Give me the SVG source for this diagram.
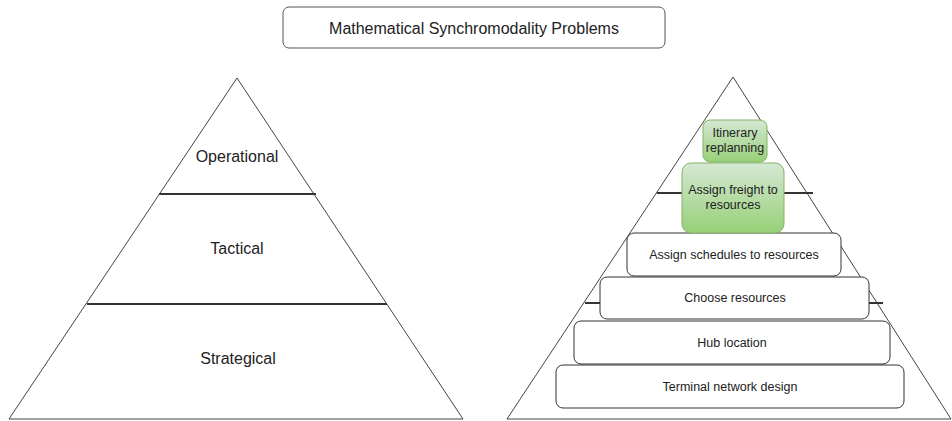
<svg xmlns="http://www.w3.org/2000/svg" width="952" height="421" viewBox="0 0 952 421">
<style>
text{font-family:"Liberation Sans",Arial,sans-serif;fill:#222;text-anchor:middle;dominant-baseline:central}
.tri{fill:#fff;stroke:#444;stroke-width:1}
.div{stroke:#333;stroke-width:2}
.box{fill:#fff;stroke:#333;stroke-width:1}
.green{fill:url(#g);stroke:#82b366;stroke-width:1}
</style>
<defs>
<linearGradient id="g" x1="0" y1="0" x2="0" y2="1">
<stop offset="0" stop-color="#d5e8d4"/>
<stop offset="1" stop-color="#97d077"/>
</linearGradient>
</defs>
<rect width="952" height="421" fill="#fff"/>
<g id="title">
<rect x="283" y="7" width="382" height="41" rx="6" fill="#fff" stroke="#555"/>
<text x="474" y="28" font-size="16">Mathematical Synchromodality Problems</text>
</g>
<g id="left-pyramid">
<polygon class="tri" points="237,78 9,419 463,419"/>
<line class="div" x1="159" y1="194" x2="316" y2="194"/>
<line class="div" x1="87" y1="304" x2="387" y2="304"/>
<text x="237" y="156" font-size="16">Operational</text>
<text x="237" y="248" font-size="16">Tactical</text>
<text x="238" y="358" font-size="16">Strategical</text>
</g>
<g id="right-pyramid">
<polygon class="tri" points="733,77 507,419 951,419"/>
<line class="div" x1="657" y1="193" x2="813" y2="193"/>
<line class="div" x1="585" y1="303" x2="883" y2="303"/>
</g>
<g id="terminal">
<rect class="box" x="556" y="365" width="348" height="43" rx="7"/>
<text x="730" y="387" font-size="12.5">Terminal network design</text>
</g>
<g id="hub">
<rect class="box" x="574" y="321" width="316" height="43" rx="7"/>
<text x="732" y="343" font-size="12.5">Hub location</text>
</g>
<g id="choose">
<rect class="box" x="600" y="277" width="269" height="42" rx="7"/>
<text x="735" y="298" font-size="12.5">Choose resources</text>
</g>
<g id="schedules">
<rect class="box" x="627" y="233" width="214" height="43" rx="7"/>
<text x="734" y="255" font-size="12.5">Assign schedules to resources</text>
</g>
<g id="freight">
<rect class="green" x="682" y="163" width="102" height="70" rx="9"/>
<text x="733" y="190" font-size="12.5">Assign freight to</text>
<text x="733" y="205" font-size="12.5">resources</text>
</g>
<g id="itinerary">
<rect class="green" x="703" y="120" width="64" height="42" rx="7"/>
<text x="735" y="133" font-size="12.5">Itinerary</text>
<text x="735" y="148" font-size="12.5">replanning</text>
</g>
<g id="connectors"></g>
</svg>
